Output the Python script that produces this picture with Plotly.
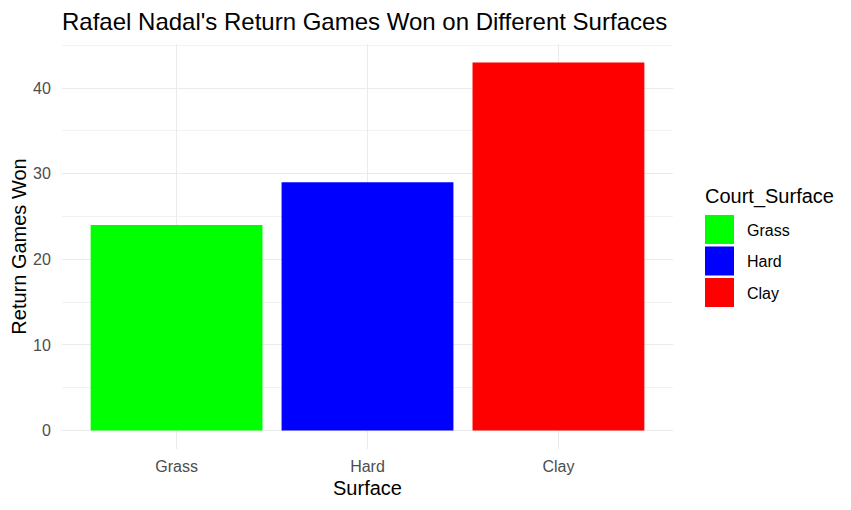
import plotly.graph_objects as go

# Data
surfaces = ["Grass", "Hard", "Clay"]
return_games_won = [24, 29, 43]
bar_colors = ["#00FF00", "#0000FF", "#FF0000"]

FONT = "Liberation Sans, Arial, sans-serif"

# the page body has an 8px margin, so work in screen pixels and shift
OFF = 8
W, H = 851 - OFF, 510 - OFF
ml, mr, mt, mb = 62 - OFF, 178, 44 - OFF, 61
pw, ph = W - ml - mr, H - mt - mb

def px_x(px):
    return (px - OFF - ml) / pw

def px_y(py):
    return (H - mb - (py - OFF)) / ph

fig = go.Figure()
fig.add_trace(go.Bar(
    x=surfaces, y=return_games_won,
    marker=dict(color=bar_colors, line=dict(width=0)),
    width=0.9, showlegend=False,
))

# ggplot-style legend drawn by hand (big square keys)
shapes = []
annotations = [dict(
    x=px_x(703), y=px_y(196), xref="paper", yref="paper",
    text="Court_Surface", showarrow=False, xanchor="left", yanchor="middle",
    font=dict(family=FONT, size=20, color="black"),
)]
for i, (name, col) in enumerate(zip(surfaces, bar_colors)):
    top = 215 + i * 31.5
    shapes.append(dict(
        type="rect", xref="paper", yref="paper",
        x0=px_x(705), x1=px_x(734), y0=px_y(top + 29), y1=px_y(top),
        fillcolor=col, line=dict(width=0),
    ))
    annotations.append(dict(
        x=px_x(745), y=px_y(top + 15), xref="paper", yref="paper",
        text=name, showarrow=False, xanchor="left", yanchor="middle",
        font=dict(family=FONT, size=16, color="black"),
    ))

fig.update_layout(
    width=W, height=H,
    margin=dict(l=ml, r=mr, t=mt, b=mb, pad=0),
    paper_bgcolor="white", plot_bgcolor="white",
    font=dict(family=FONT),
    title=dict(
        text="Rafael Nadal's Return Games Won on Different Surfaces",
        x=ml / W, xanchor="left", y=1 - (22 - OFF) / H, yanchor="middle",
        font=dict(family=FONT, size=24, color="black"),
    ),
    shapes=shapes,
    annotations=annotations,
    bargap=0.1,
)
fig.update_xaxes(
    range=[-0.6, 2.6], showgrid=True, gridcolor="#EBEBEB", gridwidth=1, automargin=False,
    zeroline=False, showline=False, ticks="outside", ticklen=3, tickcolor="rgba(0,0,0,0)",
    tickfont=dict(family=FONT, size=16, color="#4D4D4D"),
    title=dict(text="Surface", font=dict(family=FONT, size=20, color="black"), standoff=6),
)
fig.update_yaxes(
    range=[-2.15, 45.15], dtick=10, showgrid=True, gridcolor="#EBEBEB", gridwidth=1, automargin=False,
    minor=dict(dtick=5, showgrid=True, gridcolor="#F2F2F2", gridwidth=0.6),
    zeroline=False, showline=False, ticks="outside", ticklen=7, tickcolor="rgba(0,0,0,0)",
    tickfont=dict(family=FONT, size=16, color="#4D4D4D"),
    title=dict(text="Return Games Won", font=dict(family=FONT, size=20, color="black"), standoff=6),
)

fig.write_html("out.html")
